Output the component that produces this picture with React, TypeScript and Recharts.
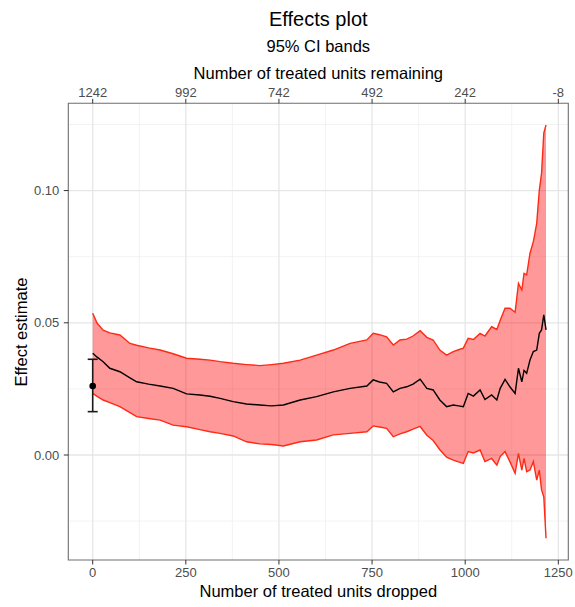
import React from "react";
import {
  ComposedChart,
  Area,
  Line,
  Scatter,
  ErrorBar,
  XAxis,
  YAxis,
  CartesianGrid,
  ReferenceArea,
} from "recharts";

// Number of treated units dropped (x of every band point)
const dropped = [
  0, 12, 28, 46, 73, 100, 118, 150, 181, 216, 252, 288, 315, 342, 377, 413, 449, 480, 512, 557,
  601, 646, 691, 736, 753, 770, 789, 807, 825, 843, 860, 879, 897, 914, 932, 950, 968, 982, 995,
  1008, 1022, 1040, 1053, 1071, 1085, 1094, 1107, 1120, 1134, 1143, 1152, 1158, 1165, 1174, 1183,
  1192, 1199, 1205, 1211, 1217,
];
const estimate = [
  0.0385, 0.037, 0.0353, 0.0328, 0.0315, 0.0292, 0.0277, 0.0268, 0.0261, 0.0252, 0.0231, 0.0227,
  0.0222, 0.0214, 0.0202, 0.0193, 0.0189, 0.0186, 0.0189, 0.0208, 0.0221, 0.0239, 0.0252, 0.0261,
  0.0284, 0.0276, 0.0271, 0.0239, 0.0252, 0.0258, 0.0268, 0.0287, 0.0252, 0.0246, 0.0208, 0.0183,
  0.0189, 0.0186, 0.0183, 0.0233, 0.0223, 0.0246, 0.021, 0.0227, 0.0208, 0.0252, 0.0286, 0.0258,
  0.0233, 0.0328, 0.0277, 0.032, 0.0309, 0.0359, 0.0391, 0.0397, 0.046, 0.0473, 0.053, 0.0473,
];
const lowerCI = [
  0.0233, 0.0222, 0.0208, 0.0198, 0.0183, 0.016, 0.0145, 0.0138, 0.0132, 0.0113, 0.0107, 0.0096,
  0.0088, 0.0082, 0.0072, 0.005, 0.0042, 0.004, 0.0034, 0.005, 0.0057, 0.0076, 0.0082, 0.0088,
  0.011, 0.0106, 0.0101, 0.0069, 0.008, 0.0088, 0.0098, 0.0108, 0.0075, 0.0055, 0.002, -0.0008,
  -0.0019, -0.0026, -0.0032, 0.0013, 0.0008, 0.0019, -0.0025, -0.0013, -0.0038, -0.0006, 0.0013,
  -0.0025, -0.0069, 0.0006, -0.0057, -0.0013, -0.0063, -0.0057, -0.0025, -0.0095, -0.0057, -0.0132,
  -0.0158, -0.0315,
];
const upperCI = [
  0.0536, 0.0498, 0.0472, 0.0462, 0.0454, 0.0422, 0.0415, 0.0405, 0.0397, 0.0383, 0.0366, 0.0362,
  0.0359, 0.0353, 0.0347, 0.0342, 0.0338, 0.0342, 0.0347, 0.0359, 0.0378, 0.0397, 0.0422, 0.0435,
  0.046, 0.0455, 0.0447, 0.0416, 0.0435, 0.0438, 0.045, 0.047, 0.0445, 0.0435, 0.0397, 0.0378,
  0.0391, 0.0398, 0.0404, 0.0441, 0.0437, 0.046, 0.045, 0.0485, 0.0475, 0.051, 0.0555, 0.0555,
  0.054, 0.0649, 0.0624, 0.0687, 0.0681, 0.0763, 0.0807, 0.0876, 0.1002, 0.1065, 0.1217, 0.1248,
];

// original (full-sample) estimate with its CI
const baseDropped = [0];
const baseEstimate = [0.0261];
const baseLower = [0.0164];
const baseUpper = [0.0362];

const droppedTicks = [0, 250, 500, 750, 1000, 1250];
const remainingLabels = ["1242", "992", "742", "492", "242", "-8"];
const effectTicks = [0, 0.05, 0.1];
const minorDropped = [125, 375, 625, 875, 1125];
const minorEffect = [-0.025, 0.025, 0.075, 0.125];

const X_DOMAIN: [number, number] = [-65.5, 1276.8];
const Y_DOMAIN: [number, number] = [-0.0397, 0.133];

const rows = dropped.map((d, i) => ({
  dropped: d,
  est: estimate[i],
  lo: lowerCI[i],
  hi: upperCI[i],
  band: [lowerCI[i], upperCI[i]],
}));

const basePoint = baseDropped.map((d, i) => ({
  dropped: d,
  est: baseEstimate[i],
  err: [baseEstimate[i] - baseLower[i], baseUpper[i] - baseEstimate[i]],
}));

const FONT = '"Liberation Sans", Arial, Helvetica, sans-serif';
const tickStyle = { fontSize: 13, fill: "#4D4D4D", fontFamily: FONT };
const tickLine = { stroke: "#333333", strokeWidth: 1 };

const fmtEffect = (v: number) => v.toFixed(2);

function Dot(props: { cx?: number; cy?: number }) {
  const { cx, cy } = props;
  if (cx == null || cy == null) return null;
  return <circle cx={cx} cy={cy} r={3.3} fill="#000000" />;
}

export default function App() {
  return (
    <div
      style={{
        position: "absolute",
        left: 0,
        top: 0,
        width: 575,
        height: 607,
        background: "#ffffff",
        fontFamily: FONT,
        color: "#000",
      }}
    >
      <div style={{ position: "absolute", left: 68.3, width: 500, top: 8.5, fontSize: 20, lineHeight: 1, textAlign: "center" }}>
        Effects plot
      </div>
      <div style={{ position: "absolute", left: 68.3, width: 500, top: 38.3, fontSize: 16.5, lineHeight: 1, textAlign: "center" }}>
        95% CI bands
      </div>
      <div style={{ position: "absolute", left: 68.3, width: 500, top: 64.8, fontSize: 16.5, lineHeight: 1, textAlign: "center" }}>
        Number of treated units remaining
      </div>
      <div style={{ position: "absolute", left: 68.3, width: 500, top: 582.5, fontSize: 16.5, lineHeight: 1, textAlign: "center" }}>
        Number of treated units dropped
      </div>
      <div
        style={{
          position: "absolute",
          left: 20.5,
          top: 331.6,
          fontSize: 16.5,
          lineHeight: 1,
          whiteSpace: "nowrap",
          transform: "translate(-50%, -50%) rotate(-90deg)",
        }}
      >
        Effect estimate
      </div>

      <ComposedChart
        width={575}
        height={607}
        data={rows}
        margin={{ top: 0, right: 6.7, bottom: 0, left: 0 }}
        style={{ position: "absolute", left: 0, top: 0 }}
      >
        <CartesianGrid
          xAxisId="bottom"
          yAxisId="y"
          horizontalValues={minorEffect}
          verticalValues={minorDropped}
          stroke="#F0F0F0"
          strokeWidth={0.8}
        />
        <CartesianGrid
          xAxisId="bottom"
          yAxisId="y"
          horizontalValues={effectTicks}
          verticalValues={droppedTicks}
          stroke="#E6E6E6"
          strokeWidth={1.3}
        />
        <XAxis
          xAxisId="bottom"
          dataKey="dropped"
          type="number"
          orientation="bottom"
          domain={X_DOMAIN}
          allowDataOverflow
          ticks={droppedTicks}
          interval={0}
          height={47}
          axisLine={false}
          tickLine={tickLine}
          tickSize={4.5}
          tickMargin={3.5}
          tick={tickStyle}
        />
        <XAxis
          xAxisId="top"
          dataKey="dropped"
          type="number"
          orientation="top"
          domain={X_DOMAIN}
          allowDataOverflow
          ticks={droppedTicks}
          interval={0}
          tickFormatter={(_v: number, i: number) => remainingLabels[i]}
          height={103.3}
          axisLine={false}
          tickLine={tickLine}
          tickSize={4.5}
          tickMargin={2}
          tick={tickStyle}
        />
        <YAxis
          yAxisId="y"
          type="number"
          domain={Y_DOMAIN}
          allowDataOverflow
          ticks={effectTicks}
          interval={0}
          tickFormatter={fmtEffect}
          width={68.3}
          axisLine={false}
          tickLine={tickLine}
          tickSize={4.5}
          tickMargin={4.5}
          tick={tickStyle}
        />

        <Area
          xAxisId="bottom"
          yAxisId="y"
          type="linear"
          dataKey="band"
          fill="#FF0000"
          fillOpacity={0.4}
          stroke="none"
          isAnimationActive={false}
        />
        <Line
          xAxisId="bottom"
          yAxisId="y"
          type="linear"
          dataKey="hi"
          stroke="#FF2A14"
          strokeWidth={1.4}
          dot={false}
          isAnimationActive={false}
        />
        <Line
          xAxisId="bottom"
          yAxisId="y"
          type="linear"
          dataKey="lo"
          stroke="#FF2A14"
          strokeWidth={1.4}
          dot={false}
          isAnimationActive={false}
        />
        <Line
          xAxisId="bottom"
          yAxisId="y"
          type="linear"
          dataKey="est"
          stroke="#000000"
          strokeWidth={1.4}
          dot={false}
          isAnimationActive={false}
        />
        <Line
          xAxisId="top"
          yAxisId="y"
          type="linear"
          dataKey="est"
          stroke="none"
          dot={false}
          legendType="none"
          isAnimationActive={false}
        />
        <Scatter
          xAxisId="bottom"
          yAxisId="y"
          data={basePoint}
          dataKey="est"
          shape={<Dot />}
          isAnimationActive={false}
        >
          <ErrorBar dataKey="err" direction="y" width={5} stroke="#1A1A1A" strokeWidth={1.6} />
        </Scatter>

        <ReferenceArea
          xAxisId="bottom"
          yAxisId="y"
          x1={X_DOMAIN[0]}
          x2={X_DOMAIN[1]}
          y1={Y_DOMAIN[0]}
          y2={Y_DOMAIN[1]}
          fill="none"
          stroke="#6E6E6E"
          strokeWidth={1.1}
          ifOverflow="visible"
        />
      </ComposedChart>
    </div>
  );
}
